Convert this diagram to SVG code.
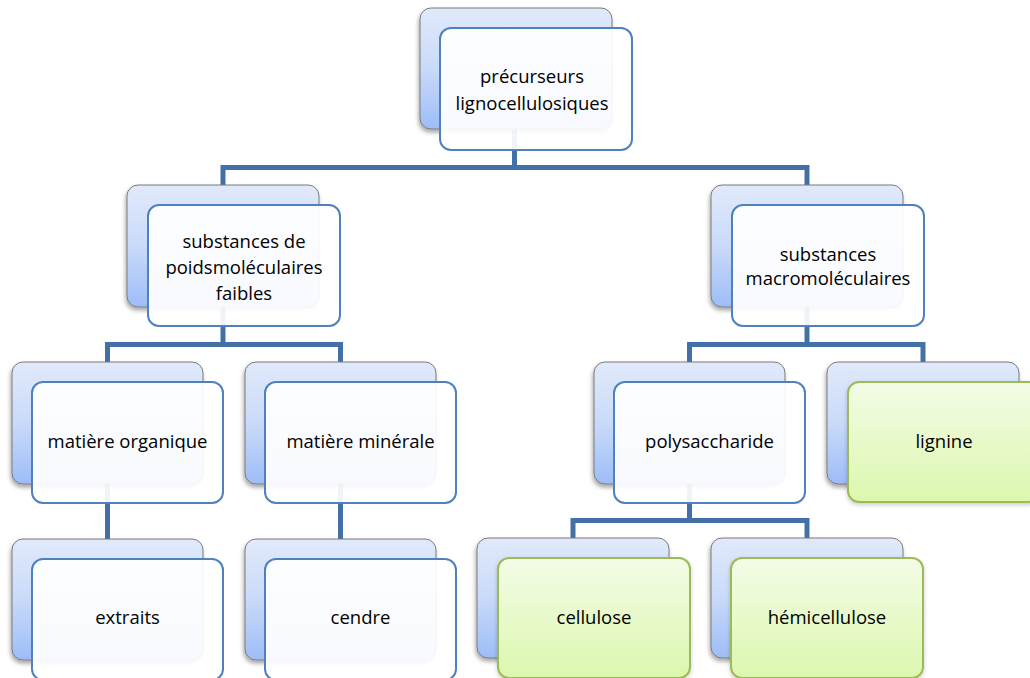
<svg xmlns="http://www.w3.org/2000/svg" width="1030" height="678" viewBox="0 0 1030 678">
<defs>
<linearGradient id="gBack" x1="0" y1="0" x2="0" y2="1">
<stop offset="0" stop-color="#e1eafb"/>
<stop offset="0.5" stop-color="#c9daf9"/>
<stop offset="1" stop-color="#9dbdf8"/>
</linearGradient>
<linearGradient id="gGreen" x1="0" y1="0" x2="0" y2="1">
<stop offset="0" stop-color="#f3fce6"/>
<stop offset="1" stop-color="#dcf7ae"/>
</linearGradient>
<filter id="sh" x="-10%" y="-10%" width="120%" height="125%">
<feDropShadow dx="-1" dy="3" stdDeviation="2" flood-color="#000" flood-opacity="0.35"/>
</filter>
<filter id="sh2" x="-10%" y="-10%" width="120%" height="125%">
<feDropShadow dx="0" dy="2" stdDeviation="2" flood-color="#000" flood-opacity="0.2"/>
</filter>
</defs>
<style>
.back{fill:url(#gBack);stroke:#7a7a7a;stroke-width:1;filter:url(#sh)}
.front{fill:#ffffff;fill-opacity:0.92;stroke:#4f81bd;stroke-width:2}
.green{fill:url(#gGreen);stroke:#9bbb59;stroke-width:2;filter:url(#sh2)}
.lbl{font-family:"Open Sans","Liberation Sans",sans-serif;font-size:18.5px;fill:#000;text-anchor:middle}
.con{fill:none;stroke:#4470a8;stroke-width:5;stroke-linejoin:miter}
</style>
<rect width="1030" height="678" fill="#ffffff"/>
<g id="connectors">
<path class="con" d="M514.5 128 V167.5 M223 185 V167.5 H807 V185"/>
<path class="con" d="M223 307 V344.5 M107.5 362 V344.5 H340.5 V362"/>
<path class="con" d="M807 307 V344.5 M689.5 362 V344.5 H923 V362"/>
<path class="con" d="M107.5 484 V539 M340.5 484 V539"/>
<path class="con" d="M689.5 484 V520.5 M573 538 V520.5 H807 V538"/>
</g>
<g id="n-precurseurs">
<rect class="back" x="420" y="8" width="192" height="121" rx="11"/>
<rect class="front" x="440" y="28" width="192" height="122" rx="11"/>
<text class="lbl" x="532" y="83">précurseurs</text>
<text class="lbl" x="532" y="110">lignocellulosiques</text>
</g>
<g id="n-faibles">
<rect class="back" x="127" y="185" width="192" height="122" rx="11"/>
<rect class="front" x="148" y="205" width="192" height="121" rx="11"/>
<text class="lbl" x="244" y="248">substances de</text>
<text class="lbl" x="244" y="274">poidsmoléculaires</text>
<text class="lbl" x="244" y="300">faibles</text>
</g>
<g id="n-macro">
<rect class="back" x="711" y="185" width="192" height="122" rx="11"/>
<rect class="front" x="732" y="205" width="192" height="121" rx="11"/>
<text class="lbl" x="828" y="261">substances</text>
<text class="lbl" x="828" y="285">macromoléculaires</text>
</g>
<g id="n-organique">
<rect class="back" x="12" y="362" width="191" height="122" rx="11"/>
<rect class="front" x="32" y="382" width="191" height="121" rx="11"/>
<text class="lbl" x="127.5" y="448">matière organique</text>
</g>
<g id="n-minerale">
<rect class="back" x="245" y="362" width="191" height="122" rx="11"/>
<rect class="front" x="265" y="382" width="191" height="121" rx="11"/>
<text class="lbl" x="360.5" y="448">matière minérale</text>
</g>
<g id="n-polysaccharide">
<rect class="back" x="594" y="362" width="191" height="122" rx="11"/>
<rect class="front" x="614" y="382" width="191" height="121" rx="11"/>
<text class="lbl" x="709.5" y="448">polysaccharide</text>
</g>
<g id="n-lignine">
<rect class="back" x="827" y="362" width="192" height="122" rx="11"/>
<rect class="green" x="848" y="382" width="192" height="120" rx="11"/>
<text class="lbl" x="944" y="448">lignine</text>
</g>
<g id="n-extraits">
<rect class="back" x="12" y="539" width="191" height="121" rx="11"/>
<rect class="front" x="32" y="559" width="191" height="121" rx="11"/>
<text class="lbl" x="127.5" y="624">extraits</text>
</g>
<g id="n-cendre">
<rect class="back" x="245" y="539" width="191" height="121" rx="11"/>
<rect class="front" x="265" y="559" width="191" height="121" rx="11"/>
<text class="lbl" x="360.5" y="624">cendre</text>
</g>
<g id="n-cellulose">
<rect class="back" x="477" y="538" width="192" height="120" rx="11"/>
<rect class="green" x="498" y="558" width="192" height="120" rx="11"/>
<text class="lbl" x="594" y="624">cellulose</text>
</g>
<g id="n-hemicellulose">
<rect class="back" x="711" y="538" width="192" height="120" rx="11"/>
<rect class="green" x="731" y="558" width="192" height="120" rx="11"/>
<text class="lbl" x="827" y="624">hémicellulose</text>
</g>
</svg>
